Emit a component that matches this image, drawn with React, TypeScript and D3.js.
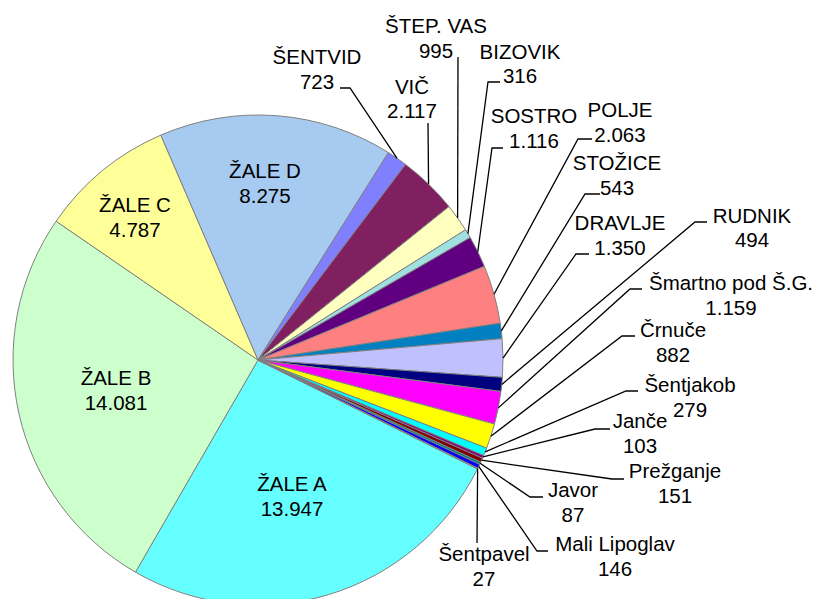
import React from "react";
import * as d3 from "d3";

// ---- data ----
const categories = [
  "ŽALE A", "ŽALE B", "ŽALE C", "ŽALE D", "ŠENTVID", "VIČ", "ŠTEP. VAS", "BIZOVIK",
  "SOSTRO", "POLJE", "STOŽICE", "DRAVLJE", "RUDNIK", "Šmartno pod Š.G.", "Črnuče",
  "Šentjakob", "Janče", "Prežganje", "Javor", "Mali Lipoglav", "Šentpavel",
];
const values = [
  13947, 14081, 4787, 8275, 723, 2117, 995, 316,
  1116, 2063, 543, 1350, 494, 1159, 882,
  279, 103, 151, 87, 146, 27,
];

// ---- styles ----
const colors = [
  "#66FFFF", "#CCFFCC", "#FFFF99", "#A6CAF0", "#8080FF", "#802060", "#FFFFC0", "#A0E0E0",
  "#600080", "#FF8080", "#0080C0", "#C0C0FF", "#000080", "#FF00FF", "#FFFF00",
  "#00FFFF", "#800080", "#800000", "#008080", "#0000FF", "#C0C0C0",
];

// ---- layout ----
const W = 816, H = 599;
const CX = 258, CY = 360, R = 245;
const START_DEG = 116.4;
const FONT = 20.5;
const LINE = 24.5;

// label positions: x = text centre, y = cap-centre of first line; leader: elbow & end (null = inside)
type LP = { x: number; y: number; elbow?: [number, number]; end?: [number, number] };
const labelLayout: LP[] = [
  { x: 292, y: 484 },
  { x: 116, y: 378 },
  { x: 135, y: 205 },
  { x: 265, y: 171 },
  { x: 317, y: 57, elbow: [350, 88], end: [340, 88] },
  { x: 412, y: 86.5, elbow: [428, 123], end: [428, 123] },
  { x: 436, y: 26, elbow: [458, 57], end: [458, 57] },
  { x: 520, y: 51.5, elbow: [488, 82], end: [500, 82] },
  { x: 534, y: 116, elbow: [492, 148], end: [503, 148] },
  { x: 620, y: 110, elbow: [578, 139], end: [592, 139] },
  { x: 617, y: 163, elbow: [585, 194], end: [600, 194] },
  { x: 620, y: 223, elbow: [576, 254], end: [589, 254] },
  { x: 752, y: 215.5, elbow: [695, 222], end: [707, 222] },
  { x: 731, y: 283, elbow: [630, 289], end: [642, 289] },
  { x: 673, y: 330, elbow: [622, 336], end: [635, 336] },
  { x: 690, y: 385, elbow: [626, 391], end: [638, 391] },
  { x: 640, y: 421, elbow: [595, 429], end: [610, 429] },
  { x: 675, y: 471, elbow: [612, 479], end: [624, 479] },
  { x: 573, y: 490, elbow: [530, 497], end: [543, 497] },
  { x: 615, y: 544, elbow: [537, 551], end: [548, 551] },
  { x: 484, y: 554, elbow: [477, 543], end: [477, 543] },
];

const locale = d3.formatLocale({ decimal: ",", thousands: ".", grouping: [3], currency: ["", " €"] });
const fmt = locale.format(",d");

export default function App() {
  const start = (START_DEG * Math.PI) / 180;
  const pie = d3.pie<number>().sort(null).value((d) => d).startAngle(start).endAngle(start + 2 * Math.PI);
  const arcs = pie(values);
  const arcGen = d3.arc<d3.PieArcDatum<number>>().innerRadius(0).outerRadius(R);
  const edgeArc = d3.arc<d3.PieArcDatum<number>>().innerRadius(R).outerRadius(R);
  const capOff = FONT * 0.358;

  return (
    <svg width={W} height={H} style={{ position: "absolute", left: 0, top: 0 }}
      fontFamily="'Liberation Sans', Arial, sans-serif" fontSize={FONT}>
      <rect width={W} height={H} fill="#fff" />
      <g transform={`translate(${CX},${CY})`}>
        {arcs.map((a, i) => (
          <path key={i} d={arcGen(a) || ""} fill={colors[i]} stroke="#808080" strokeWidth={1} />
        ))}
      </g>
      {arcs.map((a, i) => {
        const L = labelLayout[i];
        if (!L.elbow || !L.end) return null;
        const [ex, ey] = edgeArc.centroid(a);
        const pts: [number, number][] = [[CX + ex, CY + ey], L.elbow, L.end];
        return (
          <path key={"l" + i} d={d3.line()(pts) || ""} fill="none" stroke="#000" strokeWidth={1.3} />
        );
      })}
      {arcs.map((a, i) => {
        const L = labelLayout[i];
        return (
          <text key={"t" + i} textAnchor="middle" fill="#000">
            <tspan x={L.x} y={L.y + capOff}>{categories[i]}</tspan>
            <tspan x={L.x} y={L.y + LINE + capOff}>{fmt(values[i])}</tspan>
          </text>
        );
      })}
    </svg>
  );
}
